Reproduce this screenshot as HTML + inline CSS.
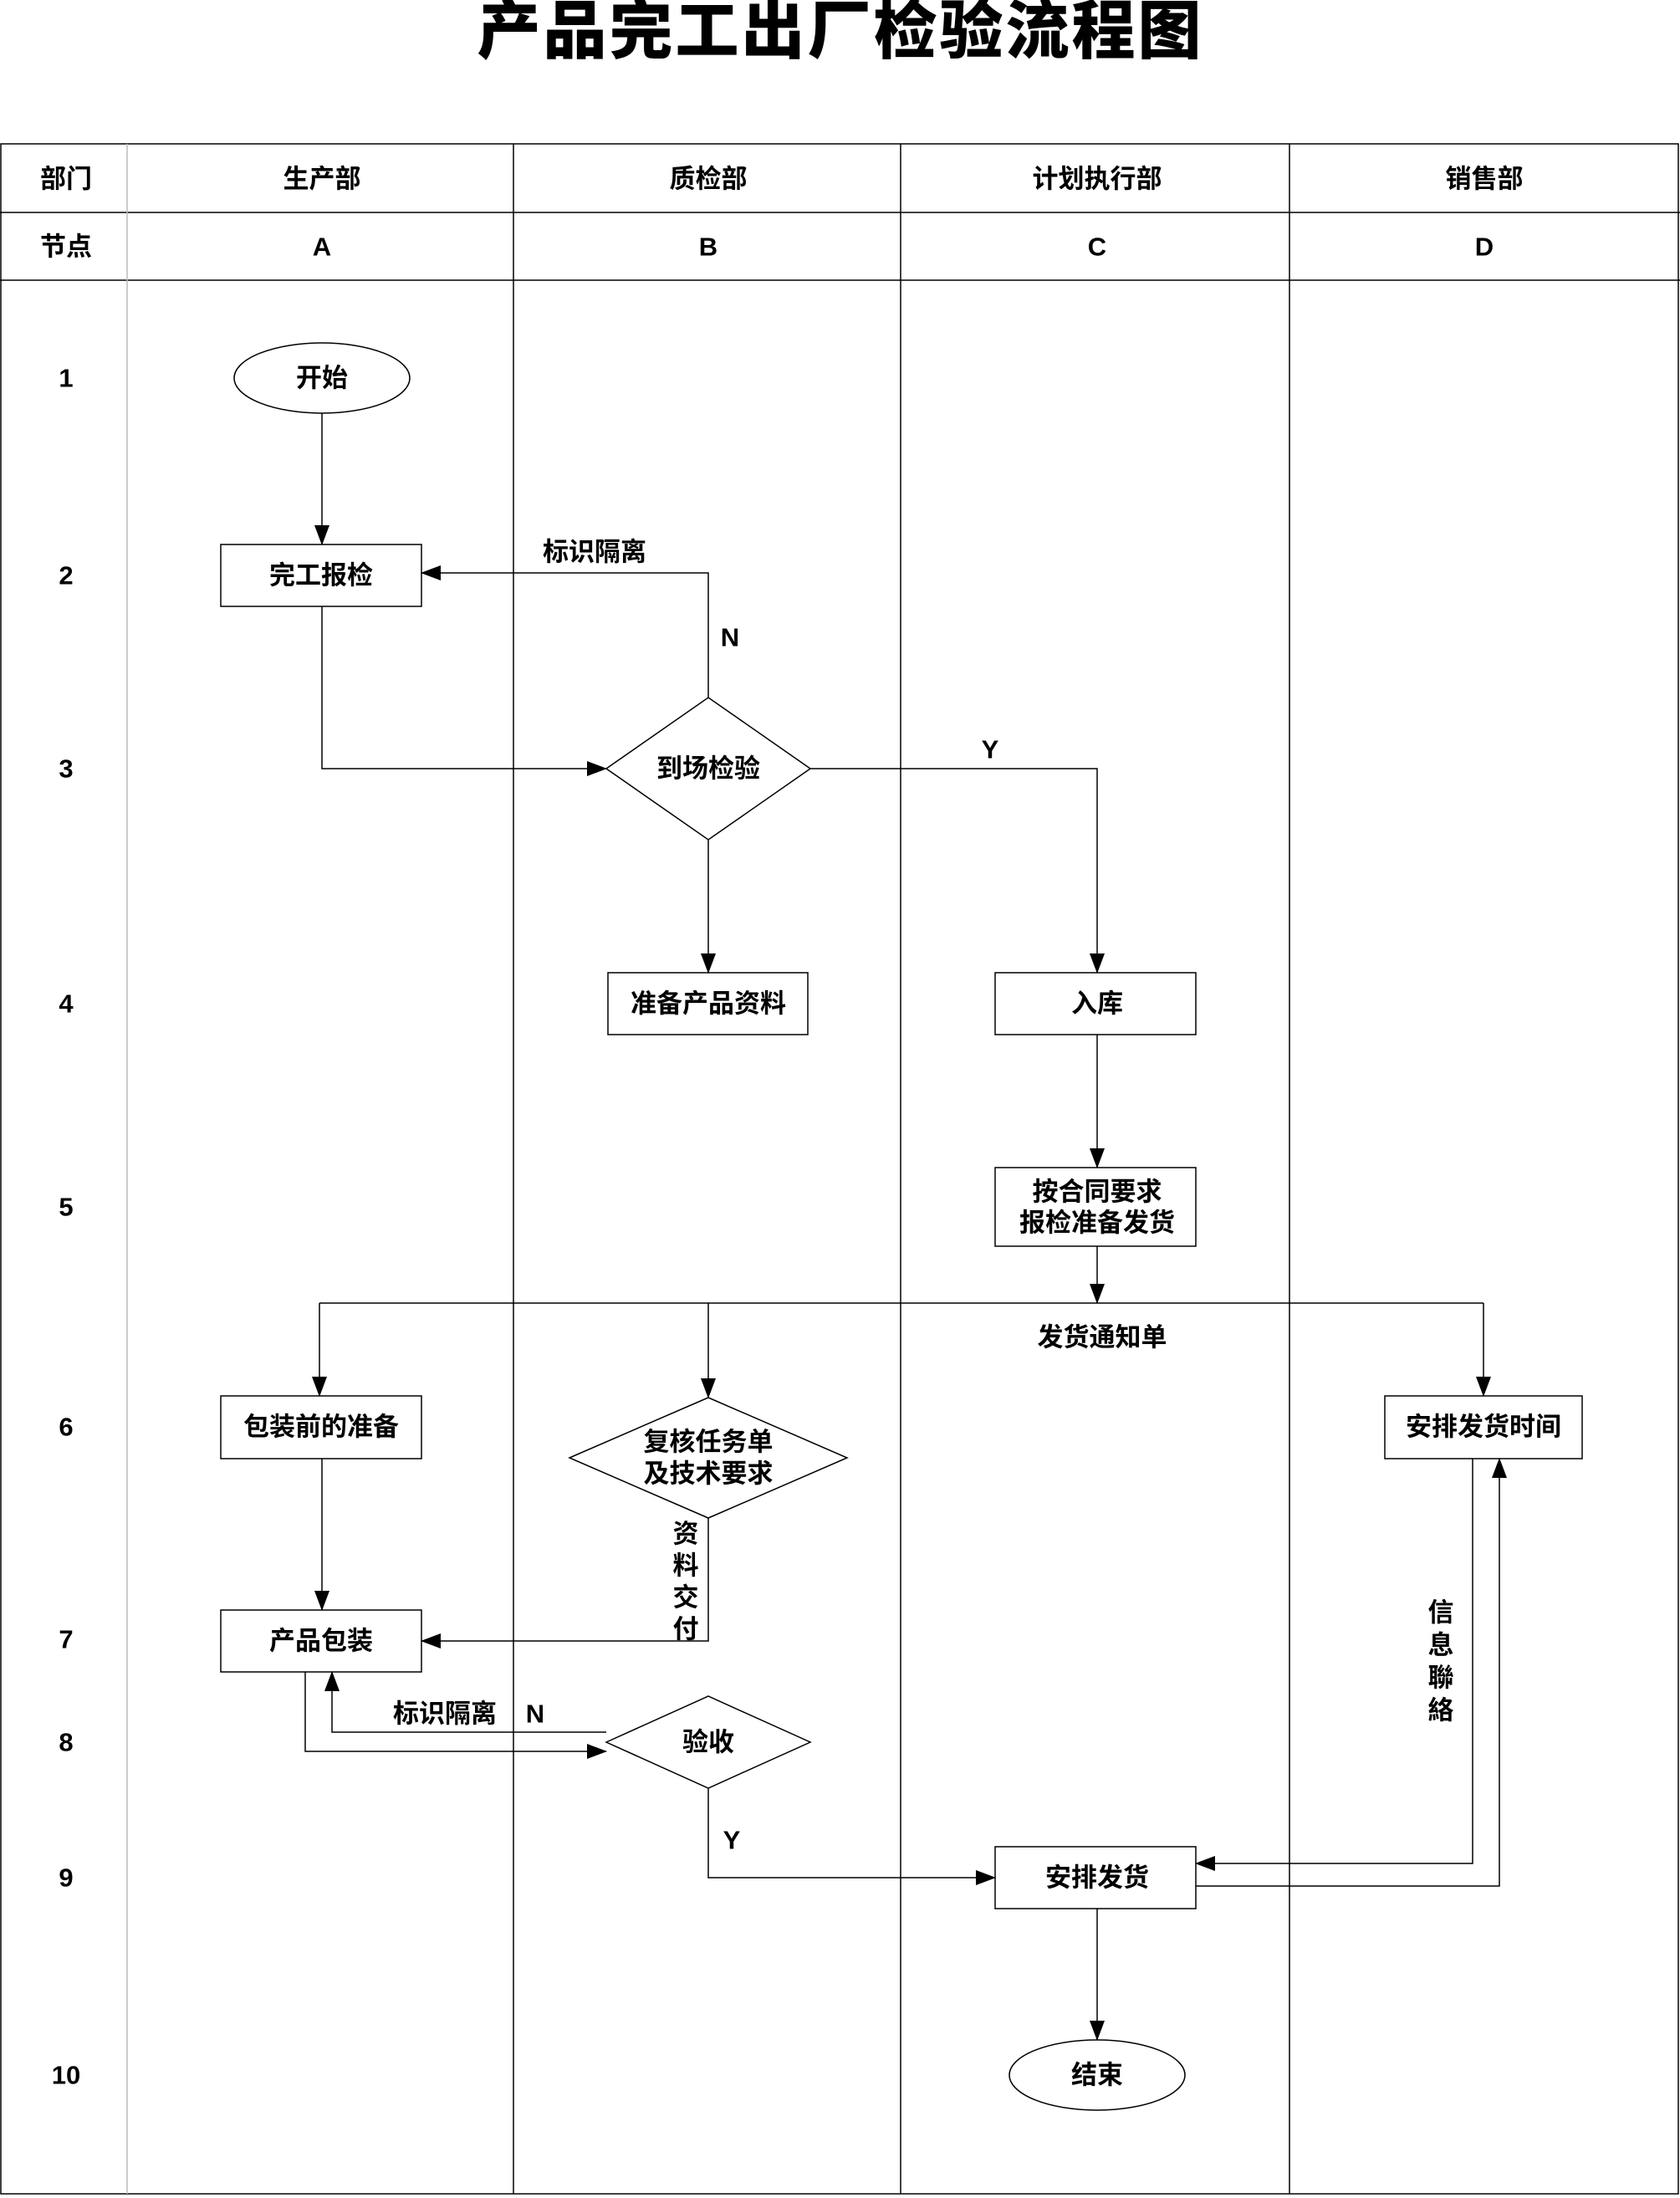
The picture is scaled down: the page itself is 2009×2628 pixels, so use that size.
<!DOCTYPE html>
<html><head><meta charset="utf-8"><style>
body{margin:0;background:#fff}
svg{display:block}
text{font-family:"Liberation Sans","Noto Sans CJK SC",sans-serif;font-size:31px;font-weight:bold;fill:#000;text-anchor:middle;dominant-baseline:central}
</style></head><body>
<svg width="2009" height="2628" viewBox="0 0 2009 2628" xmlns="http://www.w3.org/2000/svg">
<defs><marker id="a" markerWidth="24" markerHeight="18" refX="23" refY="9" orient="auto" markerUnits="userSpaceOnUse"><path d="M0,0 L24,9 L0,18 Z" fill="#000"/></marker></defs>
<text x="1005" y="38" style="font-size:76px;font-weight:900;letter-spacing:3px">产品完工出厂检验流程图</text>
<g stroke="#000" stroke-width="1.5" fill="none">
<rect x="1" y="172" width="2006" height="2451"/>
<line x1="0" y1="254" x2="2009" y2="254"/>
<line x1="0" y1="335" x2="2009" y2="335"/>
<line x1="614" y1="172" x2="614" y2="2623"/>
<line x1="1077" y1="172" x2="1077" y2="2623"/>
<line x1="1542" y1="172" x2="1542" y2="2623"/>
</g>
<line x1="152" y1="172" x2="152" y2="2623" stroke="#bbb" stroke-width="1.5"/>
<text x="79" y="214">部门</text><text x="385" y="214">生产部</text><text x="847" y="214">质检部</text><text x="1312" y="214">计划执行部</text><text x="1775" y="214">销售部</text>
<text x="79" y="295">节点</text><text x="385" y="295">A</text><text x="847" y="295">B</text><text x="1312" y="295">C</text><text x="1775" y="295">D</text>
<text x="79" y="452">1</text><text x="79" y="688">2</text><text x="79" y="919">3</text><text x="79" y="1200">4</text><text x="79" y="1443">5</text><text x="79" y="1706">6</text><text x="79" y="1960">7</text><text x="79" y="2083">8</text><text x="79" y="2245">9</text><text x="79" y="2481">10</text>
<g stroke="#000" stroke-width="1.5" fill="#fff">
<ellipse cx="385" cy="452" rx="105" ry="42"/>
<rect x="264" y="651" width="240" height="74"/>
<path d="M725,919 L847,834 L969,919 L847,1004 Z"/>
<rect x="727" y="1163" width="239" height="74"/>
<rect x="1190" y="1163" width="240" height="74"/>
<rect x="1190" y="1396" width="240" height="94"/>
<rect x="264" y="1669" width="240" height="75"/>
<path d="M681,1743 L847,1671 L1013,1743 L847,1815 Z"/>
<rect x="1656" y="1669" width="236" height="75"/>
<rect x="264" y="1925" width="240" height="74"/>
<path d="M725,2083 L847,2028 L969,2083 L847,2138 Z"/>
<rect x="1190" y="2208" width="240" height="74"/>
<ellipse cx="1312" cy="2481" rx="105" ry="42"/>
</g>
<g stroke="#000" stroke-width="1.5" fill="none" marker-end="url(#a)">
<path d="M385,494 V651"/>
<path d="M847,834 V685 H504"/>
<path d="M385,725 V919 H725"/>
<path d="M969,919 H1312 V1163"/>
<path d="M847,1004 V1163"/>
<path d="M1312,1237 V1396"/>
<path d="M1312,1490 V1558"/>
<path d="M382,1558 V1669"/>
<path d="M847,1558 V1671"/>
<path d="M1774,1558 V1669"/>
<path d="M385,1744 V1925"/>
<path d="M847,1815 V1962 H504"/>
<path d="M365,1999 V2094 H725"/>
<path d="M725,2071 H397 V1999"/>
<path d="M847,2138 V2245 H1190"/>
<path d="M1761,1744 V2228 H1430"/>
<path d="M1430,2255 H1793 V1744"/>
<path d="M1312,2282 V2439"/>
</g>
<line x1="382" y1="1558" x2="1774" y2="1558" stroke="#000" stroke-width="1.5"/>
<text x="385" y="452">开始</text>
<text x="384" y="688">完工报检</text>
<text x="847" y="919">到场检验</text>
<text x="847" y="1200">准备产品资料</text>
<text x="1312" y="1200">入库</text>
<text x="1312" y="1425">按合同要求</text><text x="1312" y="1462">报检准备发货</text>
<text x="384" y="1706">包装前的准备</text>
<text x="847" y="1724">复核任务单</text><text x="847" y="1762">及技术要求</text>
<text x="1774" y="1706">安排发货时间</text>
<text x="384" y="1962">产品包装</text>
<text x="847" y="2083">验收</text>
<text x="1312" y="2245">安排发货</text>
<text x="1312" y="2481">结束</text>
<text x="711" y="660">标识隔离</text>
<text x="873" y="762">N</text>
<text x="1184" y="896">Y</text>
<text x="1318" y="1599">发货通知单</text>
<text x="820" y="1834">资</text><text x="820" y="1872">料</text><text x="820" y="1910">交</text><text x="820" y="1948">付</text>
<text x="532" y="2049">标识隔离</text>
<text x="640" y="2049">N</text>
<text x="875" y="2200">Y</text>
<text x="1723" y="1928">信</text><text x="1723" y="1967">息</text><text x="1723" y="2006">聯</text><text x="1723" y="2045">絡</text>
</svg>
</body></html>
